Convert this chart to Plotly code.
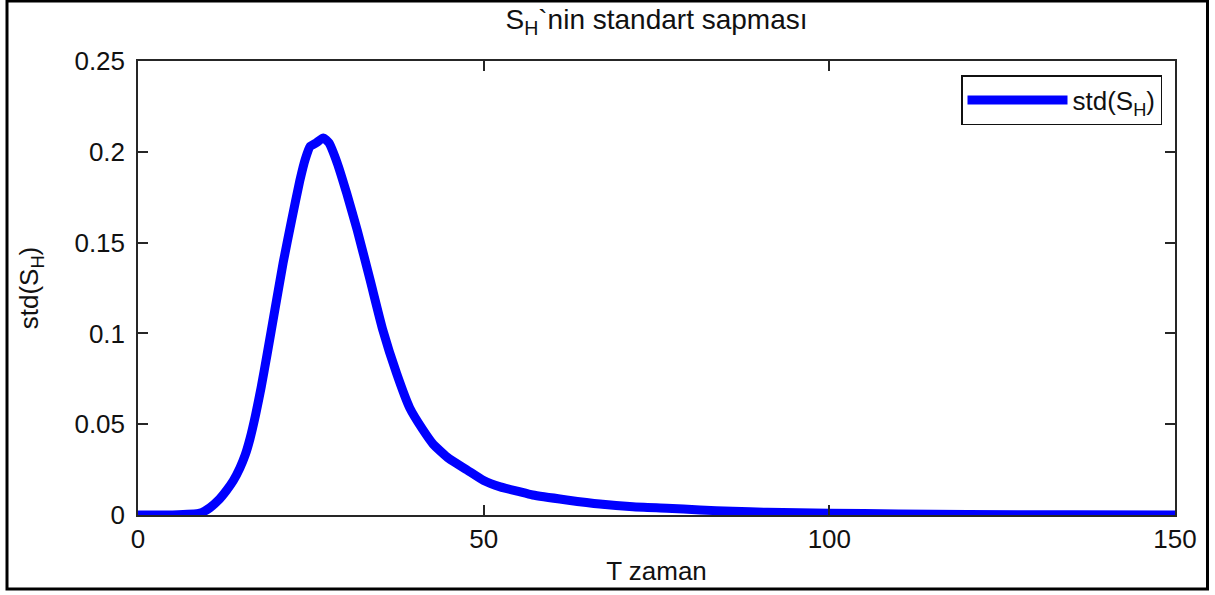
import plotly.graph_objects as go

# Data
T = [0, 5, 9, 10.4, 11.6, 12.8, 13.8, 14.75, 15.5, 16.2, 17, 17.8, 18.7, 19.8,
     21, 22.2, 23.4, 24.2, 24.9, 25.8, 26.8, 27.6, 28.8, 30.2, 31.7, 33.6, 35.4,
     37.4, 39.3, 41.2, 42.7, 45, 47.6, 50, 52.4, 55, 57.1, 62, 66.8, 71.6, 76.5,
     81.3, 86, 91, 100, 110, 120, 135, 150]
std_SH = [0, 0, 0.001, 0.004, 0.008, 0.0135, 0.019, 0.026, 0.033, 0.042, 0.055,
          0.070, 0.089, 0.113, 0.139, 0.162, 0.184, 0.196, 0.203, 0.205, 0.2076,
          0.205, 0.194, 0.177, 0.157, 0.129, 0.102, 0.078, 0.059, 0.047, 0.039,
          0.031, 0.0248, 0.019, 0.0155, 0.013, 0.011, 0.0083, 0.006, 0.0045,
          0.0037, 0.0028, 0.002, 0.0015, 0.001, 0.0006, 0.0003, 0.0001, 0.0]
x_ticks = [0, 50, 100, 150]
y_ticks = [0, 0.05, 0.1, 0.15, 0.2, 0.25]
y_tick_text = ["0", "0.05", "0.1", "0.15", "0.2", "0.25"]

FONT = "Liberation Sans, Arial, sans-serif"
FS = 26
TXT = "#111111"
W, H = 1215, 595
L, R, TOP, B = 138, 40, 61, 80
pw, ph = W - L - R, H - TOP - B

def px_x(p):
    return (p - L) / pw

def px_y(p):
    return (H - B - p) / ph

fig = go.Figure()
fig.add_trace(go.Scatter(
    x=T, y=std_SH, mode="lines",
    name="std(S<sub>H</sub>)",
    line=dict(color="#0000FF", width=9, shape="spline", smoothing=0.5),
))

axis_common = dict(
    showline=True, linecolor="#262626", linewidth=1.5, mirror="ticks",
    ticks="inside", ticklen=10, tickwidth=1.5, tickcolor="#262626",
    showgrid=False, zeroline=False,
    tickfont=dict(family=FONT, size=FS, color=TXT),
)

fig.update_layout(
    width=W, height=H,
    margin=dict(l=L, r=R, t=TOP, b=B, autoexpand=False),
    paper_bgcolor="white", plot_bgcolor="white",
    font=dict(family=FONT, size=FS, color=TXT),
    title=dict(text="S<sub>H</sub>`nin standart sapması", x=(L + pw / 2) / W,
               xanchor="center", y=1 - 19 / H, yanchor="middle",
               font=dict(family=FONT, size=28, color=TXT)),
    xaxis=dict(range=[0, 150], tickvals=x_ticks, ticktext=[str(v) for v in x_ticks],
               title=dict(text="T zaman", standoff=9,
                          font=dict(family=FONT, size=FS, color=TXT)),
               ticklabelstandoff=0, **axis_common),
    yaxis=dict(range=[0, 0.25], tickvals=y_ticks, ticktext=y_tick_text,
               title=dict(text="std(S<sub>H</sub>)", standoff=28,
                          font=dict(family=FONT, size=FS, color=TXT)),
               ticklabelstandoff=6, **axis_common),
    showlegend=True,
    legend=dict(x=px_x(1162), xanchor="right", y=px_y(75), yanchor="top",
                bordercolor="#111111", borderwidth=1.5, bgcolor="white",
                font=dict(family=FONT, size=FS, color=TXT),
                itemwidth=100),
    shapes=[dict(type="rect", xref="paper", yref="paper",
                 x0=px_x(7), x1=px_x(1207.5), y0=px_y(589), y1=px_y(1),
                 line=dict(color="black", width=3), fillcolor="rgba(0,0,0,0)",
                 layer="above")],
)

fig.write_html("out.html")
